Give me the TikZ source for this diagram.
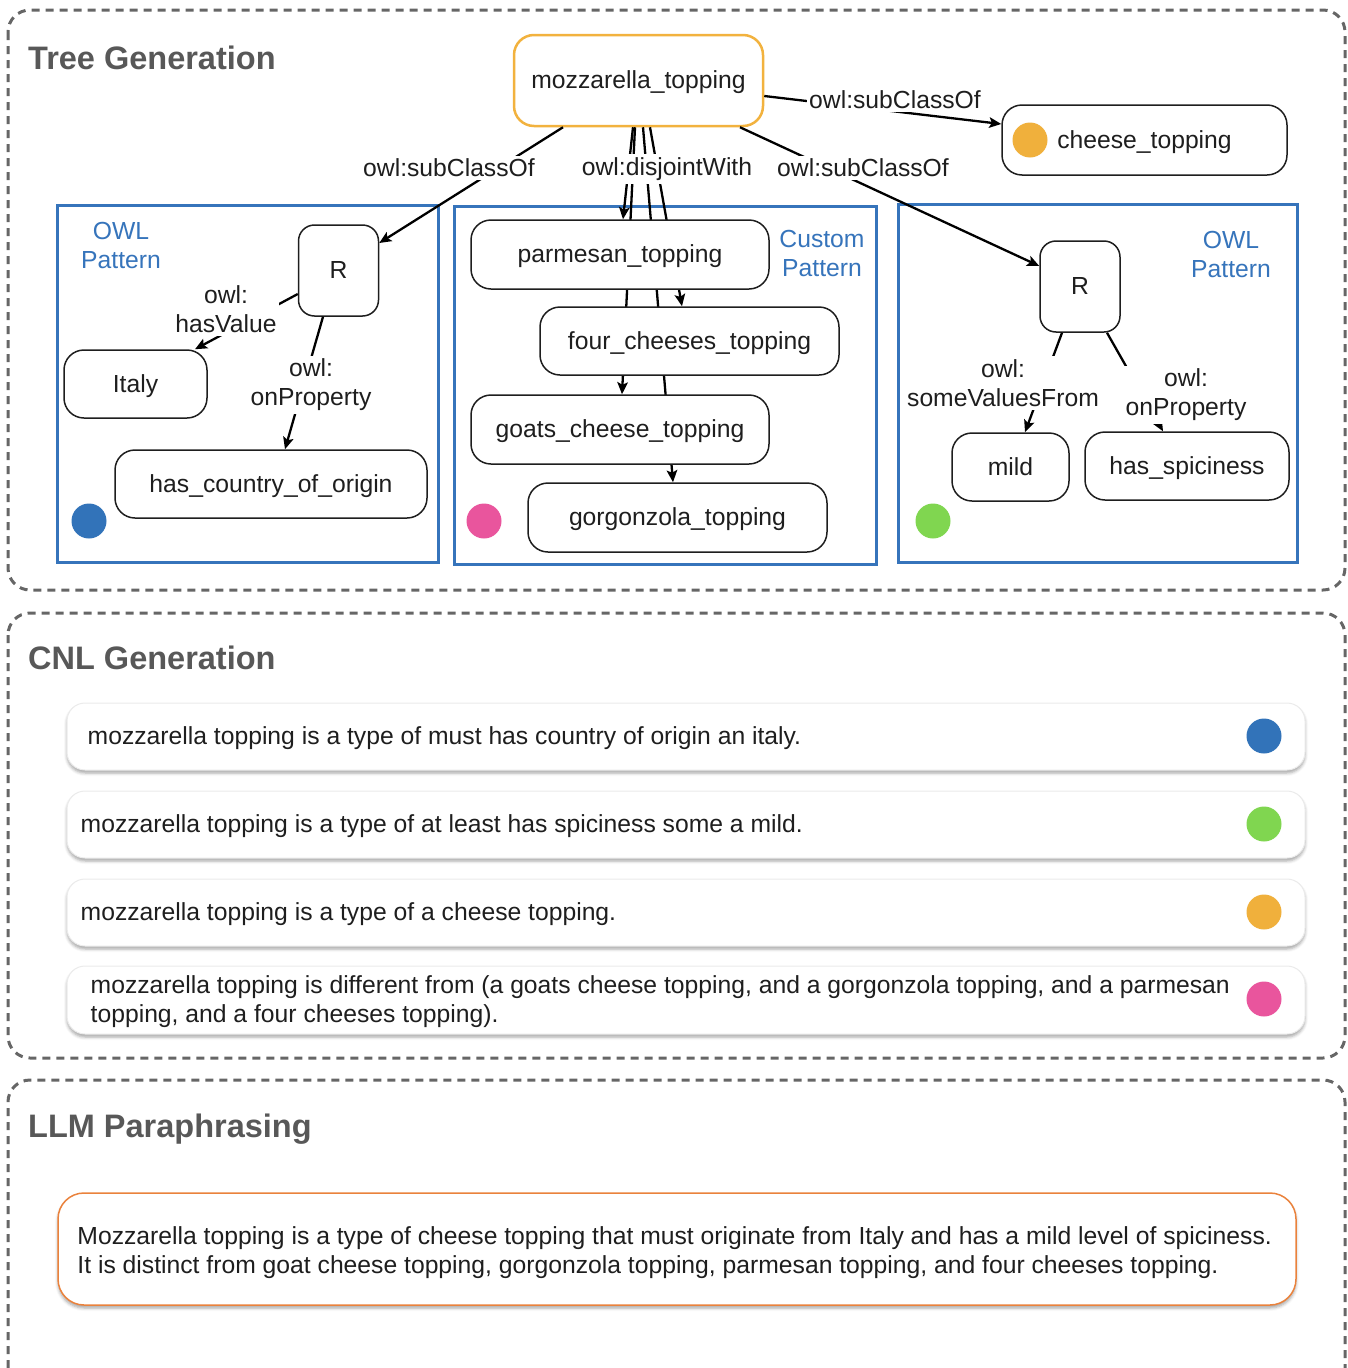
\documentclass[tikz,border=0pt]{standalone}
\usepackage{fontspec}
\setmainfont{Liberation Sans}
\usetikzlibrary{arrows.meta,positioning,shadows.blur}
\definecolor{owlblue}{RGB}{54,116,187}
\definecolor{mozzorange}{RGB}{242,178,62}
\definecolor{dotorange}{RGB}{240,176,60}
\definecolor{dotblue}{RGB}{50,115,185}
\definecolor{dotpink}{RGB}{233,85,157}
\definecolor{dotgreen}{RGB}{128,214,80}
\definecolor{secgray}{RGB}{102,102,102}
\definecolor{headgray}{RGB}{88,88,88}
\definecolor{txtgray}{RGB}{30,30,30}
\definecolor{llmorange}{RGB}{234,130,60}
\tikzset{
  cls/.style={draw=txtgray, line width=1.5pt, rounded corners=20pt, fill=white, inner sep=0pt, text height=20pt, text depth=4pt},
  rbox/.style={cls, rounded corners=16pt, minimum width=80pt, minimum height=91pt},
  arr/.style={line width=2.3pt, draw=black, -{Stealth[length=12pt,width=10.5pt,inset=2.5pt]}},
  lbl/.style={fill=white, inner xsep=2pt, inner ysep=3pt, align=center},
  pattern/.style={draw=owlblue, line width=3pt},
  patlbl/.style={text=owlblue, align=center},
  section/.style={draw=secgray, line width=3pt, dash pattern=on 8pt off 6pt, rounded corners=22pt},
  header/.style={font=\bfseries\fontsize{32.5}{38}\selectfont, text=headgray, anchor=base west, inner sep=0pt},
  dot/.style={circle, inner sep=0pt, minimum size=35pt},
  cnl/.style={draw=black!8, line width=1pt, fill=white, rounded corners=18pt, minimum width=1238pt, minimum height=67pt,
    blur shadow={shadow xshift=0pt, shadow yshift=-3pt, shadow blur radius=3pt, shadow opacity=35}},
  llmbox/.style={cnl, draw=llmorange, line width=1.5pt, rounded corners=26pt, minimum height=112pt},
  cnltext/.style={anchor=west, inner sep=0pt, align=left, yshift=-2pt},
}

\begin{document}
\begin{tikzpicture}[x=1pt, y=-1pt, font=\fontsize{24.7}{29}\selectfont, text=txtgray]
	\useasboundingbox (0,0) rectangle (1348,1368);
	% sections and pattern frames
	\draw[section] (8,10) rectangle (1345,590);
	\draw[section] (8,613) rectangle (1345,1058);
	\draw[section] (8,1368) -- (8,1080) -- (1345,1080) -- (1345,1368);
	\draw[pattern] (57,205) rectangle (438,562);
	\draw[pattern] (454,206) rectangle (876,564);
	\draw[pattern] (898,204) rectangle (1297,562);
	\node[header] (hTree) at (28,69) {Tree Generation};
	\node[header] (hCnl) at (28,669) {CNL Generation};
	\node[header] (hLlm) at (28,1137) {LLM Paraphrasing};
	% tree
	\node[cls, draw=mozzorange, line width=2.5pt, minimum width=249pt, minimum height=91pt] (mozz) at (638.5,80.5) {mozzarella\_topping};
	\node[cls, minimum width=285pt, minimum height=70pt] (cheese) at (1144.5,140) {cheese\_topping};
	\node[dot, fill=dotorange] (dotCheese) at (1030,140) {};
	\draw[arr] ([yshift=-15.5pt]mozz.east) -- ([yshift=16pt]cheese.west);
	% left pattern
	\node[patlbl] (patL) at (121,245) {OWL\\Pattern};
	\node[rbox] (rL) at (338.5,270.5) {R};
	\node[cls, minimum width=143pt, minimum height=68pt] (italy) at (135.5,384) {Italy};
	\node[cls, minimum width=312pt, minimum height=68pt] (origin) at (271,484) {has\_country\_of\_origin};
	\node[dot, fill=dotblue] (dotL) at (89,521) {};
	\draw[arr] ([xshift=-75.5pt]mozz.south) -- ([yshift=27.5pt]rL.east);
	\draw[arr] ([yshift=-23.5pt]rL.west) -- ([xshift=59.5pt]italy.north);
	\draw[arr] ([xshift=-15.5pt]rL.south) -- ([xshift=14pt]origin.north);
	% right pattern
	\node[patlbl] (patR) at (1231,254) {OWL\\Pattern};
	\node[rbox] (rR) at (1080,286.5) {R};
	\node[cls, minimum width=117pt, minimum height=68pt] (mild) at (1010.5,467) {mild};
	\node[cls, minimum width=204pt, minimum height=68pt] (spicy) at (1187,466) {has\_spiciness};
	\node[dot, fill=dotgreen] (dotR) at (933,521) {};
	\draw[arr] ([xshift=101.5pt]mozz.south) -- ([yshift=20.5pt]rR.west);
	\draw[arr] ([xshift=-18pt]rR.south) -- ([xshift=14.5pt]mild.north);
	\draw[arr] ([xshift=27pt]rR.south) -- ([xshift=-24pt]spicy.north);
	% custom pattern, drawn bottom up so the disjointWith lines pass behind the boxes
	\node[patlbl] (patM) at (822,253) {Custom\\Pattern};
	\node[dot, fill=dotpink] (dotM) at (484,521) {};
	\node[cls, minimum width=299pt, minimum height=69pt] (gorg) at (677.5,517.5) {gorgonzola\_topping};
	\draw[arr] ([xshift=4.5pt]mozz.south) -- ([xshift=-4.5pt]gorg.north);
	\node[cls, minimum width=298pt, minimum height=69pt] (goats) at (620,429.5) {goats\_cheese\_topping};
	\draw[arr] ([xshift=-3.5pt]mozz.south) -- ([xshift=2pt]goats.north);
	\node[cls, minimum width=299pt, minimum height=68pt] (four) at (689.5,341) {four\_cheeses\_topping};
	\draw[arr] ([xshift=11.5pt]mozz.south) -- ([xshift=-7.5pt]four.north);
	\node[cls, minimum width=298pt, minimum height=69pt] (parm) at (620,254.5) {parmesan\_topping};
	\draw[arr] ([xshift=-5.5pt]mozz.south) -- ([xshift=3pt]parm.north);
	% edge labels
	\node[lbl] (lSubL) at (449,168) {owl:subClassOf};
	\node[lbl] (lDisj) at (667,169) {owl:disjointWith};
	\node[lbl] (lSubR) at (863,168) {owl:subClassOf};
	\node[lbl] (lSubC) at (895,100) {owl:subClassOf};
	\node[lbl] (lVal) at (226,309) {owl:\\hasValue};
	\node[lbl] (lPropL) at (311,385) {owl:\\onProperty};
	\node[lbl] (lSome) at (1003,383) {owl:\\someValuesFrom};
	\node[lbl] (lPropR) at (1186,395) {owl:\\onProperty};
	% CNL rows
	\node[cnl] (row1) at (686,736.5) {};
	\node[cnl] (row2) at (686,824.5) {};
	\node[cnl] (row3) at (686,912.5) {};
	\node[cnl, minimum height=68pt] (row4) at (686,1000) {};
	\node[cnltext] (t1) at ([xshift=21pt]row1.west) {mozzarella topping is a type of must has country of origin an italy.};
	\node[cnltext] (t2) at ([xshift=14pt]row2.west) {mozzarella topping is a type of at least has spiciness some a mild.};
	\node[cnltext] (t3) at ([xshift=14pt]row3.west) {mozzarella topping is a type of a cheese topping.};
	\node[cnltext] (t4) at ([xshift=24pt]row4.west) {mozzarella topping is different from (a goats cheese topping, and a gorgonzola topping, and a parmesan\\topping, and a four cheeses topping).};
	\node[dot, fill=dotblue] (d1) at (1264,736) {};
	\node[dot, fill=dotgreen] (d2) at (1264,824) {};
	\node[dot, fill=dotorange] (d3) at (1264,912) {};
	\node[dot, fill=dotpink] (d4) at (1264,999) {};
	% LLM
	\node[llmbox] (para) at (677,1249) {};
	\node[cnltext, yshift=-2pt] (tPara) at ([xshift=20pt]para.west) {Mozzarella topping is a type of cheese topping that must originate from Italy and has a mild level of spiciness.\\It is distinct from goat cheese topping, gorgonzola topping, parmesan topping, and four cheeses topping.};
\end{tikzpicture}
\end{document}
